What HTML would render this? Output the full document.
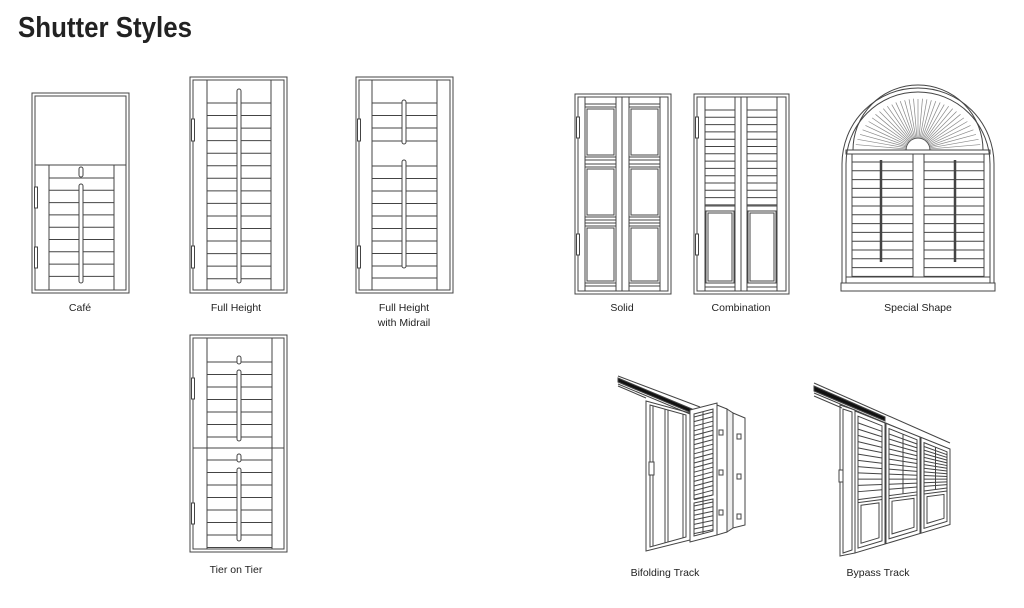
<!DOCTYPE html>
<html><head><meta charset="utf-8"><style>
html,body{margin:0;padding:0;background:#fff;width:1024px;height:608px;overflow:hidden}
svg{display:block}
text{font-family:"Liberation Sans",sans-serif;fill:#222}
</style></head><body>
<svg id="s" width="1024" height="608" viewBox="0 0 1024 608" xmlns="http://www.w3.org/2000/svg">
<text x="18" y="37" font-size="29" font-weight="bold" textLength="174" lengthAdjust="spacingAndGlyphs" fill="#1a1a1a">Shutter Styles</text>
<g font-size="10.5" text-anchor="middle">
<text x="80" y="311">Café</text>
<text x="236" y="311">Full Height</text>
<text x="404" y="311">Full Height</text>
<text x="404" y="326">with Midrail</text>
<text x="622" y="311">Solid</text>
<text x="741" y="311">Combination</text>
<text x="918" y="311">Special Shape</text>
<text x="236" y="573">Tier on Tier</text>
<text x="665" y="576">Bifolding Track</text>
<text x="878" y="576">Bypass Track</text>
</g>
<g id="d" fill="none" stroke="#444" stroke-width="1"></g>
</svg>
<script>
var o='';
function L(a,b,c,d){o+='<line x1="'+a+'" y1="'+b+'" x2="'+c+'" y2="'+d+'"/>';}
function R(x,y,w,h,extra){o+='<rect x="'+x+'" y="'+y+'" width="'+w+'" height="'+h+'"'+(extra||'')+'/>';}
function P(pts,extra){o+='<polygon points="'+pts+'"'+(extra||'')+'/>';}
function rod(x,y1,y2){R(x-2,y1,4,y2-y1,' rx="2" fill="#fff"');}
function hinge(x,y1,y2){R(x-1.5,y1,3,y2-y1,' fill="#fff"');}
function frame(x1,y1,x2,y2){R(x1,y1,x2-x1,y2-y1);R(x1+3,y1+3,x2-x1-6,y2-y1-6);}
// Cafe
frame(32,93,129,293);
L(35,165,126,165);L(49,165,49,290);L(114,165,114,290);
for(var y=178;y<285;y+=12.3)L(49,y,114,y);
R(79,167,4,10,' rx="2" fill="#fff"');rod(81,184,283);
hinge(36,187,208);hinge(36,247,268);
// Full height
frame(190,77,287,293);L(207,80,207,290);L(271,80,271,290);
for(var y=103;y<283;y+=12.55)L(207,y,271,y);
rod(239,89,283);hinge(193,119,141);hinge(193,246,268);
// Midrail
frame(356,77,453,293);L(372,80,372,290);L(437,80,437,290);
[103,115.5,128,141,166,178.5,191,203.5,216,228.5,241,253.5,266,278].forEach(function(y){L(372,y,437,y);});
rod(404,100,144);rod(404,160,268);hinge(359,119,141);hinge(359,246,268);
// Tier on tier
frame(190,335,287,552);L(207,338,207,549);L(272,338,272,549);L(193,448,284,448);
for(var y=362;y<446;y+=12.5)L(207,y,272,y);
for(var y=460;y<548;y+=12.5)L(207,y,272,y);
R(237,356,4,8,' rx="2" fill="#fff"');R(237,454,4,8,' rx="2" fill="#fff"');
rod(239,370,441);rod(239,468,541);hinge(193,378,399);hinge(193,503,524);
// Solid
frame(575,94,671,294);
[585,616,622,629,660].forEach(function(x){L(x,97,x,291);});
[[585,616],[629,660]].forEach(function(s){
 [[107,157],[167,217],[226,283]].forEach(function(p){R(s[0],p[0],s[1]-s[0],p[1]-p[0]);R(s[0]+2,p[0]+2,s[1]-s[0]-4,p[1]-p[0]-4);});
 L(s[0],104,s[1],104);L(s[0],160,s[1],160);L(s[0],164,s[1],164);L(s[0],220,s[1],220);L(s[0],223,s[1],223);L(s[0],286,s[1],286);
});
hinge(578,117,138);hinge(578,234,255);
// Combination
frame(694,94,789,294);
[705,735,741,747,777].forEach(function(x){L(x,97,x,291);});
[[705,735],[747,777]].forEach(function(s){
 for(var y=110;y<205;y+=7.3)L(s[0],y,s[1],y);
 L(s[0],206,s[1],206);R(s[0]+1,211,s[1]-s[0]-2,72);R(s[0]+3,213,s[1]-s[0]-6,68);L(s[0],287,s[1],287);
});
hinge(697,117,138);hinge(697,234,255);
// Special shape
o+='<path d="M842 283 V164 A76 76 0 0 1 994 164 V283"/>';
o+='<path d="M846 283 V164 A72 72 0 0 1 990 164 V283"/>';
o+='<path d="M853 150 A65 65 0 0 1 983 150"/>';
o+='<path d="M906 150 A12 12 0 0 1 930 150"/>';
for(var i=1;i<36;i++){var a=Math.PI*i/36,c=Math.cos(a),s=Math.sin(a);
 var r2=Math.sqrt(65*65-0)-1;var ey=150-s*( Math.sqrt(65*65-Math.pow(c*50,2))*0+ (function(){/* solve ray hitting circle centered (918,164)*/var t=0;for(t=12;t<80;t+=0.5){var X=918+c*t,Y=150-s*t;if((X-918)*(X-918)+(Y-164)*(Y-164)>=65*65)break;}return t;})());
 var t=(150-ey)/s;o+='<line stroke="#888" stroke-width="0.7" x1="'+(918+c*12)+'" y1="'+(150-s*12)+'" x2="'+(918+c*t)+'" y2="'+ey+'"/>';}
R(846,150,144,4);
R(841,283,154,8);R(846,277,144,6);
L(852,154,852,277);L(984,154,984,277);L(913,154,913,277);L(924,154,924,277);
for(var y=162;y<277;y+=8.8){L(852,y,913,y);L(924,y,984,y);}
o+='<line x1="881" y1="160" x2="881" y2="262" stroke-width="2.5"/>';
o+='<line x1="955" y1="160" x2="955" y2="262" stroke-width="2.5"/>';
// Bifold
L(618,376,700,407);L(618,384,690,414);
o+='<polygon points="618,378 692,409 692,413 618,382" fill="#111"/>';
L(618,386,646,398);
P('646,401 690,413 690,540 646,551');P('650,405 686,415 686,537 650,547');
L(665,409,665,543);L(668,410,668,542);L(653,406,653,546);L(683,414,683,538);
R(649,462,5,13,' fill="#fff"');
P('690,410 717,403 717,535 690,542',' fill="#fff"');
P('694,414 713,409 713,495 694,499');P('694,503 713,499 713,531 694,536');
L(703,412,703,534);
for(var y=0;y<83;y+=4.6){L(694,417+y,713,412+y);}
for(var y=0;y<30;y+=4.6){L(694,506+y,713,502+y);}
P('717,405 727,409 727,532 717,535',' fill="#fff"');
P('727,409 733,413 733,528 727,532',' fill="#eee"');
P('733,413 745,418 745,525 733,528',' fill="#fff"');
[430,470,510].forEach(function(y){R(719,y,4,5,' fill="#fff"');R(737,y+4,4,5,' fill="#fff"');});
// Bypass
L(814,383,950,443);L(814,393,950,450);L(814,396,842,408);
o+='<polygon points="814,386 885,417 885,421 814,391" fill="#111"/>';
P('840,405 855,410 855,553 840,556');P('843,409 852,412 852,550 843,553');R(839,470,4,12,' fill="#fff"');
function yt(x){return 411+(x-855)*0.4;}function yb(x){return 553-(x-855)*0.3;}function yd(x){return 500-(x-855)*0.13;}
[[855,885],[886,920],[921,950]].forEach(function(p,k){
 var a=p[0],b=p[1];
 P(a+','+yt(a)+' '+b+','+yt(b)+' '+b+','+yb(b)+' '+a+','+yb(a),' fill="#fff"');
 var a2=a+3,b2=b-3;
 P(a2+','+(yt(a2)+4)+' '+b2+','+(yt(b2)+4)+' '+b2+','+(yb(b2)-4)+' '+a2+','+(yb(a2)-4));
 L(a2,yd(a2),b2,yd(b2));L(a2,yd(a2)+3,b2,yd(b2)+3);
 var a3=a2+3,b3=b2-3;
 P(a3+','+(yd(a3)+6)+' '+b3+','+(yd(b3)+6)+' '+b3+','+(yb(b3)-8)+' '+a3+','+(yb(a3)-8));
 for(var f=0.08;f<0.95;f+=0.075){L(a2,yt(a2)+4+f*(yd(a2)-yt(a2)-4),b2,yt(b2)+4+f*(yd(b2)-yt(b2)-4));}
 if(k>0){var m=(a+b)/2;L(m,yt(m)+4,m,yd(m));}
});
document.getElementById('d').innerHTML=o;
</script>
</body></html>
